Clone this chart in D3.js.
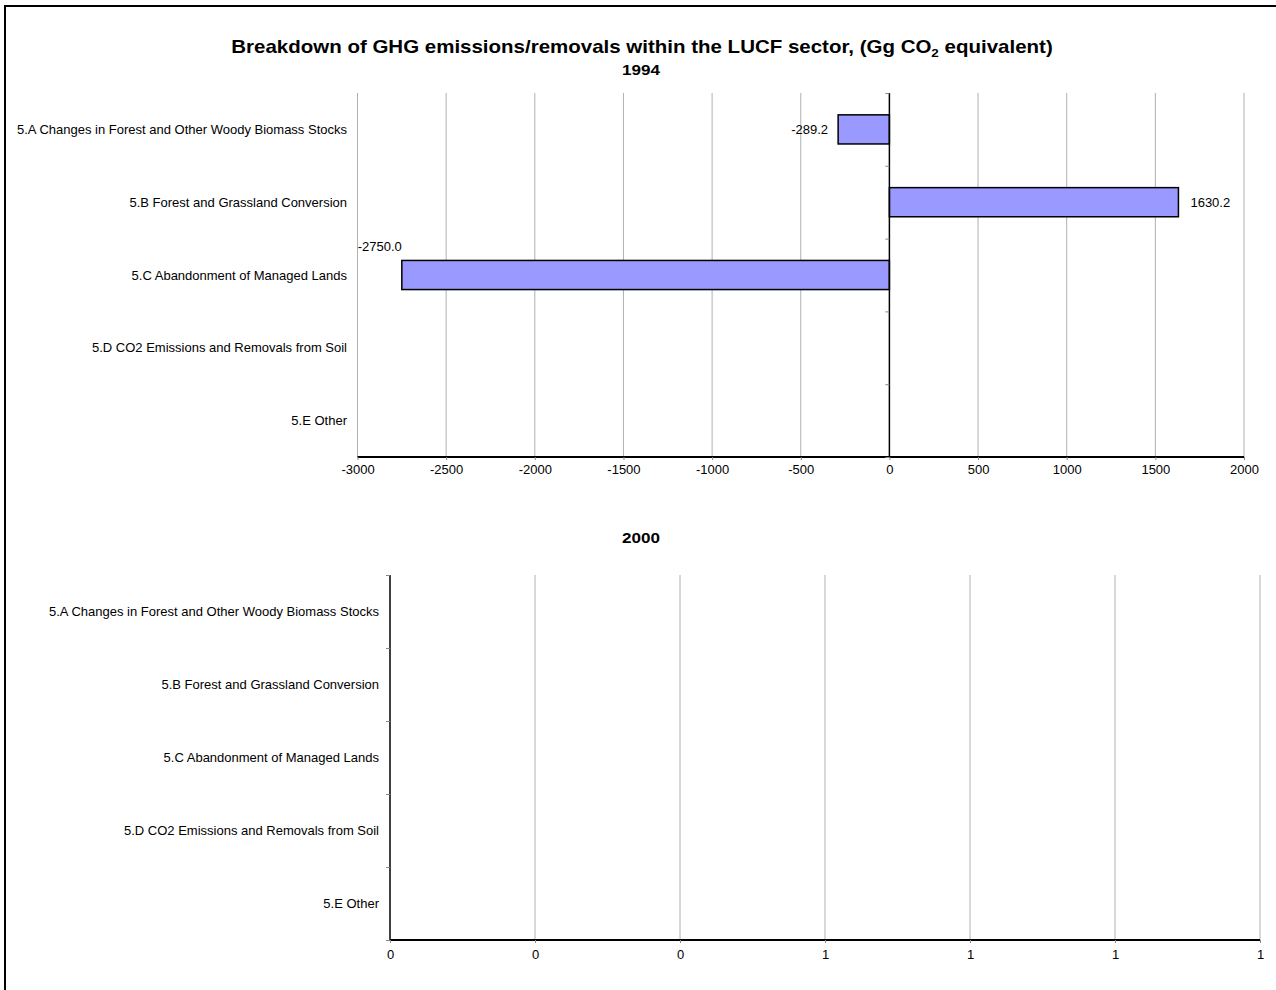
<!DOCTYPE html>
<html>
<head>
<meta charset="utf-8">
<script src="https://cdn.jsdelivr.net/npm/d3@7"></script>
<style>
  html, body { margin: 0; padding: 0; background: #fff; }
  svg { display: block; }
  text { font-family: "Liberation Sans", Arial, sans-serif; }
</style>
</head>
<body>
<svg id="chart" width="1276" height="990"></svg>
<script>
// ---- Data ----
const categories = [
  "5.A Changes in Forest and Other Woody Biomass Stocks",
  "5.B Forest and Grassland Conversion",
  "5.C Abandonment of Managed Lands",
  "5.D CO2 Emissions and Removals from Soil",
  "5.E Other"
];
const values1994 = [-289.2, 1630.2, -2750.0, null, null];
const values2000 = [null, null, null, null, null];
const ticks1994 = [-3000, -2500, -2000, -1500, -1000, -500, 0, 500, 1000, 1500, 2000];
const ticks2000 = [0, 0.2, 0.4, 0.6, 0.8, 1.0, 1.2];
const titleMain = "Breakdown of GHG emissions/removals within the LUCF sector, (Gg CO";
const titleSub = "2";
const titleEnd = " equivalent)";
const panelTitles = ["1994", "2000"];

const svg = d3.select("#chart");
const hy = s => s.replace(/\u2212/g, "-");

// outer frame
svg.append("rect").attr("x", 5).attr("y", 6).attr("width", 1290).attr("height", 1000)
  .attr("fill", "none").attr("stroke", "#000").attr("stroke-width", 2);

// main title
const t = svg.append("text").attr("x", 642).attr("y", 53).attr("text-anchor", "middle")
  .attr("font-weight", "bold").attr("font-size", 17.5);
t.append("tspan").text(titleMain);
t.append("tspan").text(titleSub).attr("font-size", 11.5).attr("dy", 4);
t.append("tspan").text(titleEnd).attr("dy", -4);
{
  const bb = t.node().getBBox();
  const sx = 822 / bb.width;
  t.attr("transform", `translate(642,0) scale(${sx},1) translate(-642,0)`);
}

function panel(opts) {
  const { values, ticks, domain, left, right, top, bottom, titleY, title, fmt, labelRight, tickPad } = opts;
  const g = svg.append("g");
  const pt = g.append("text").attr("x", 641).attr("y", titleY).attr("text-anchor", "middle")
    .attr("font-weight", "bold").attr("font-size", 14.5).text(title);
  {
    const bb = pt.node().getBBox();
    const sx = 38 / bb.width;
    pt.attr("transform", `translate(641,0) scale(${sx},1) translate(-641,0)`);
  }

  const x = d3.scaleLinear().domain(domain).range([left, right]);
  const y = d3.scaleBand().domain(categories).range([top, bottom]).padding(0);
  const step = y.step();

  // gridlines
  g.append("g").selectAll("line").data(ticks.filter(v => v !== 0)).join("line")
    .attr("x1", d => x(d)).attr("x2", d => x(d))
    .attr("y1", top).attr("y2", bottom)
    .attr("stroke", "#b0b0b0").attr("stroke-width", 1);

  // bars
  const data = categories.map((c, i) => ({ c, v: values[i] })).filter(d => d.v != null);
  g.append("g").selectAll("rect").data(data).join("rect")
    .attr("x", d => x(Math.min(0, d.v)))
    .attr("width", d => Math.abs(x(d.v) - x(0)))
    .attr("y", d => y(d.c) + step * 0.3)
    .attr("height", step * 0.4)
    .attr("fill", "#9999ff").attr("stroke", "#000").attr("stroke-width", 1.5);

  // bottom axis
  const xAxis = d3.axisBottom(x).tickValues(ticks).tickFormat(d => hy(fmt(d))).tickSize(3).tickPadding(tickPad);
  const ax = g.append("g").attr("transform", `translate(0,${bottom})`).call(xAxis);
  ax.select(".domain").attr("stroke", "#000").attr("stroke-width", 2).attr("d", `M${left},0H${right}`);
  ax.selectAll(".tick line").attr("stroke", "#888");
  ax.selectAll(".tick text").attr("font-size", 13).attr("fill", "#000")
    .style("font-family", "'Liberation Sans', Arial, sans-serif");

  // category axis at zero
  const x0 = x(0);
  const yAxisScale = d3.scaleLinear().domain([0, categories.length]).range([top, bottom]);
  const yAxis = d3.axisLeft(yAxisScale).tickValues(d3.range(categories.length + 1))
    .tickFormat("").tickSize(4);
  const ay = g.append("g").attr("transform", `translate(${x0},0)`).call(yAxis);
  ay.select(".domain").attr("stroke", "#000").attr("stroke-width", 1.5).attr("d", `M0,${top}V${bottom}`);
  ay.selectAll(".tick line").attr("stroke", "#888");

  // category labels
  g.append("g").selectAll("text").data(categories).join("text")
    .attr("x", labelRight).attr("y", d => y(d) + step / 2 + 4.5)
    .attr("text-anchor", "end").attr("font-size", 13).text(d => d);

  // value labels
  data.forEach(d => {
    const by = y(d.c) + step * 0.3;
    const bh = step * 0.4;
    const txt = hy(d3.format(".1f")(d.v));
    const lbl = g.append("text").attr("font-size", 13).text(txt);
    const w = lbl.node().getComputedTextLength();
    if (d.v >= 0) {
      lbl.attr("x", x(d.v) + 12).attr("y", by + bh / 2 + 4.5).attr("text-anchor", "start");
    } else if (x(d.v) - 10 - w >= left) {
      lbl.attr("x", x(d.v) - 10).attr("y", by + bh / 2 + 4.5).attr("text-anchor", "end");
    } else {
      lbl.attr("x", x(d.v)).attr("y", by - 9).attr("text-anchor", "end");
    }
  });
}

panel({
  values: values1994, ticks: ticks1994, domain: [-3000, 2000],
  left: 357.5, right: 1244, top: 93, bottom: 457, titleY: 75, title: panelTitles[0],
  fmt: d3.format("d"), labelRight: 347, tickPad: 5
});
panel({
  values: values2000, ticks: ticks2000, domain: [0, 1.2],
  left: 390, right: 1260, top: 575, bottom: 940, titleY: 543, title: panelTitles[1],
  fmt: d3.format(".0f"), labelRight: 379, tickPad: 7
});
</script>
</body>
</html>
